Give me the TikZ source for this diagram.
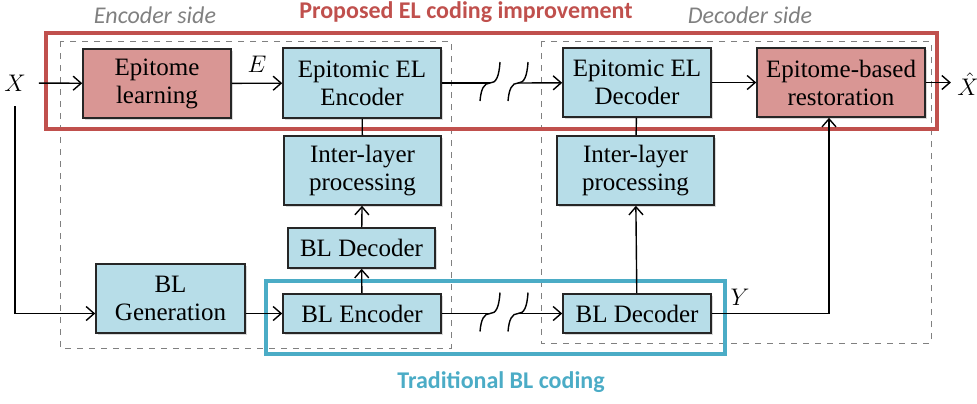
\documentclass[tikz,border=0pt]{standalone}
\usepackage{fontspec}
\setmainfont{Liberation Serif}
\newfontfamily\notefont{Carlito}
\usetikzlibrary{arrows.meta,shadows}

\definecolor{elred}{HTML}{C0504D}
\definecolor{elfill}{HTML}{D99694}
\definecolor{blblue}{HTML}{4BACC6}
\definecolor{blfill}{HTML}{B7DDE8}
\definecolor{sidegray}{HTML}{808080}

\tikzset{
  blk/.style={draw=black!85, line width=0.8pt, fill=blfill, align=center,
    inner sep=0pt, font=\fontsize{12.5}{14}\selectfont,
    drop shadow={shadow xshift=1pt, shadow yshift=-1pt, opacity=0.3}},
  epiblk/.style={blk, fill=elfill},
  conn/.style={line width=0.7pt},
  sidebox/.style={draw=sidegray, dashed, line width=0.5pt},
  sidelabel/.style={text=sidegray, font=\notefont\itshape\fontsize{12}{14}\selectfont},
  brkmark/.pic={\draw[conn] (-10,18) .. controls (-9,6) and (-6,0) .. (0,0)
      .. controls (6,0) and (9,-6) .. (10,-21);}
}

\begin{document}
\begin{tikzpicture}[x=0.5pt, y=-0.5pt, >={Straight Barb[length=4pt, width=7pt]}]
  \useasboundingbox (0,0) rectangle (977,403);

  % encoder / decoder sides
  \draw[sidebox] (60,41) rectangle (451,348);
  \draw[sidebox] (541,41) rectangle (931,343);
  \node[sidelabel] (encside) at (155,15) {Encoder side};
  \node[sidelabel] (decside) at (750,15) {Decoder side};

  % highlighted parts
  \draw[elred, line width=1.8pt] (46,33) rectangle (937,129);
  \draw[blblue, line width=1.6pt] (266,281) rectangle (725,354);
  \node[text=elred, font=\notefont\bfseries\fontsize{12}{14}\selectfont] (proplabel) at (466,12)
    {Proposed EL coding improvement};
  \node[text=blblue, font=\notefont\bfseries\fontsize{12}{14}\selectfont] (tradlabel) at (501,382)
    {Traditional BL coding};

  % encoder blocks
  \node[epiblk, minimum width=74pt, minimum height=34.5pt] (learn) at (157,83.5) {Epitome\\learning};
  \node[blk, minimum width=79pt, minimum height=35pt] (encEL) at (362,83) {Epitomic EL\\Encoder};
  \node[blk, minimum width=78.5pt, minimum height=34.5pt] (ilpE) at (362.5,170.5) {Inter-layer\\processing};
  \node[blk, minimum width=73.5pt, minimum height=20pt] (bldecE) at (361.5,248) {BL Decoder};
  \node[blk, minimum width=79pt, minimum height=19.5pt] (blenc) at (362,313.5) {BL Encoder};
  \node[blk, minimum width=74.5pt, minimum height=34.5pt] (blgen) at (170.5,298.5) {BL\\Generation};

  % decoder blocks
  \node[blk, minimum width=74pt, minimum height=34.5pt] (decEL) at (637,82.5) {Epitomic EL\\Decoder};
  \node[epiblk, minimum width=84pt, minimum height=34.5pt] (restore) at (841,82.5) {Epitome-based\\restoration};
  \node[blk, minimum width=78.5pt, minimum height=34.5pt] (ilpD) at (635.5,170.5) {Inter-layer\\processing};
  \node[blk, minimum width=74pt, minimum height=19.5pt] (bldecD) at (637,313.5) {BL Decoder};

  % signals
  \node[font=\fontsize{12.5}{14}\selectfont] (X) at (15,83) {$X$};
  \node[font=\fontsize{12.5}{14}\selectfont, inner sep=1pt] (Xhat) at (968,84) {$\hat{X}$};
  \node[font=\fontsize{12.5}{14}\selectfont] (E) at (257,64) {$E$};
  \node[font=\fontsize{12.5}{14}\selectfont] (Y) at (740,297) {$Y$};

  % channel breaks
  \coordinate (brkA) at (490,83);
  \coordinate (brkB) at (518,83);
  \coordinate (brkC) at (490,313.5);
  \coordinate (brkD) at (518,313.5);
  \pic at (brkA) {brkmark};
  \pic at (brkB) {brkmark};
  \pic at (brkC) {brkmark};
  \pic at (brkD) {brkmark};

  % connectors
  \draw[conn, ->, shorten <=3pt] (X) -- (learn);
  \draw[conn, ->] ([yshift=-4pt]X.south) |- (blgen.west |- blenc.west);
  \draw[conn, ->] (learn) -- (encEL);
  \draw[conn] (encEL) -- (brkA);
  \draw[conn, ->] (brkB) -- (decEL);
  \draw[conn, ->] (decEL) -- (restore);
  \draw[conn, ->, shorten >=2pt] (restore.east) -- (restore.east -| Xhat.west);
  \draw[conn] (encEL) -- (ilpE);
  \draw[conn, ->] (bldecE) -- (ilpE);
  \draw[conn, ->] (blenc) -- (bldecE);
  \draw[conn, ->] (blenc.west -| blgen.east) -- (blenc.west);
  \draw[conn] (blenc) -- (brkC);
  \draw[conn, ->] (brkD) -- (bldecD);
  \draw[conn, ->] (bldecD) -- (ilpD);
  \draw[conn] (ilpD) -- (decEL);
  \draw[conn, ->] (bldecD.east) -| ([xshift=-6pt]restore.south);
\end{tikzpicture}
\end{document}
